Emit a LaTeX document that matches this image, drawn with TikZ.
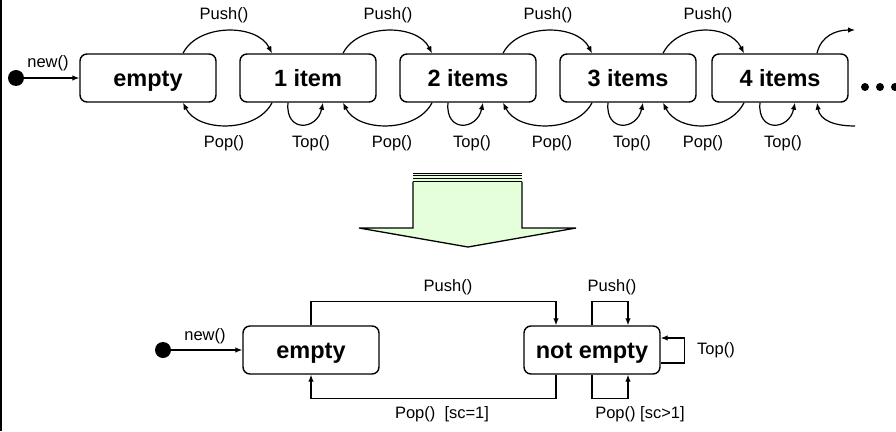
\documentclass[tikz,border=0pt]{standalone}
\usepackage{fontspec}
\setmainfont{Liberation Sans}
\usetikzlibrary{arrows.meta,calc}
\definecolor{arrowgreen}{RGB}{228,255,218}
\begin{document}
\begin{tikzpicture}[x=1pt,y=-1pt,
  state/.style={draw,line width=1.4pt,rounded corners=7pt,minimum width=136pt,minimum height=48pt,inner sep=0pt,text height=21pt,text depth=4pt,font=\fontsize{23.5}{26}\selectfont\bfseries},
  lbl/.style={font=\fontsize{16.5}{19}\selectfont,inner sep=0pt},
  conn/.style={line width=1.2pt,-{Latex[length=7pt,width=5.5pt]}},
  init/.style={circle,fill=black,minimum size=16pt,inner sep=0pt},
  dotnode/.style={circle,fill=black,minimum size=8pt,inner sep=0pt}]
\useasboundingbox (0,0) rectangle (896,431);
\draw[line width=1.5pt] (0.75,0) -- (0.75,431);

% top row
\node[state] (s0) at (148,78) {empty};
\node[state] (s1) at (308,78) {1 item};
\node[state] (s2) at (468,78) {2 items};
\node[state] (s3) at (628,78) {3 items};
\node[state] (s4) at (780,78) {4 items};
\node[init] (i0) at (16,78) {};
\draw[conn] (i0) -- (s0);
\node[lbl] (lnew0) at (48,63) {new()};

\foreach \a/\b in {s0/s1,s1/s2,s2/s3,s3/s4}{
  \draw[conn] ([xshift=35pt]\a.north) .. controls +(15,-30) and +(-15,-30) .. ([xshift=-36pt]\b.north);
  \draw[conn] ([xshift=-36pt]\b.south) .. controls +(-15,30) and +(15,30) .. ([xshift=35pt]\a.south);
}
\foreach \a in {s1,s2,s3,s4}{
  \draw[conn] ([xshift=-20pt]\a.south) .. controls +(-3,30) and +(-6,28) .. ([xshift=15pt]\a.south);
}
\coordinate (out4) at (855,30);
\coordinate (in4) at (855,126);
\draw[conn] ([xshift=37pt]s4.north) .. controls +(4,-18) and +(-18,0) .. (out4);
\draw[conn] (in4) .. controls +(-20,0) and +(3,18) .. ([xshift=37pt]s4.south);
\node[dotnode] (d1) at (865,87) {};
\node[dotnode] (d2) at (880,87) {};
\node[dotnode] (d3) at (895,87) {};

\foreach \x in {224,388,548,708}{\node[lbl] at (\x,15) {Push()};}
\foreach \x in {224,392,552,703}{\node[lbl] at (\x,143) {Pop()};}
\foreach \x in {311,472,632,783}{\node[lbl] at (\x,143) {Top()};}

% fat arrow
\fill[arrowgreen] (413,173.5) rectangle (522,182);
\draw[fill=arrowgreen,line width=1.3pt,line join=miter] (413,181.5) -- (413,228) -- (359,228) -- (468,247) -- (576,228) -- (522,228) -- (522,181.5);
\foreach \y in {173.5,175.5,178.5,181.5}{\draw[line width=1.1pt] (413,\y) -- (522,\y);}

% bottom diagram
\node[state] (e) at (311,350) {empty};
\node[state] (ne) at (592,350) {not empty};
\node[init] (i1) at (163,350) {};
\draw[conn] (i1) -- (e);
\node[lbl] (lnew1) at (205,336) {new()};
\draw[conn] (e.north) -- ++(0,-24) -| ([xshift=-36pt]ne.north);
\draw[conn] (ne.north) -- ++(0,-24) -| ([xshift=36pt]ne.north);
\draw[conn] ([xshift=-36pt]ne.south) -- ++(0,24) -| (e.south);
\draw[conn] (ne.south) -- ++(0,24) -| ([xshift=36pt]ne.south);
\draw[conn] ([yshift=-13pt]ne.east) -- ++(24,0) |- ([yshift=12pt]ne.east);
\node[lbl] at (448,287) {Push()};
\node[lbl] at (612,287) {Push()};
\node[lbl] at (442,414) {Pop()\ \ [sc=1]};
\node[lbl] at (640,414) {Pop() [sc>1]};
\node[lbl] at (716,350) {Top()};
\end{tikzpicture}
\end{document}
